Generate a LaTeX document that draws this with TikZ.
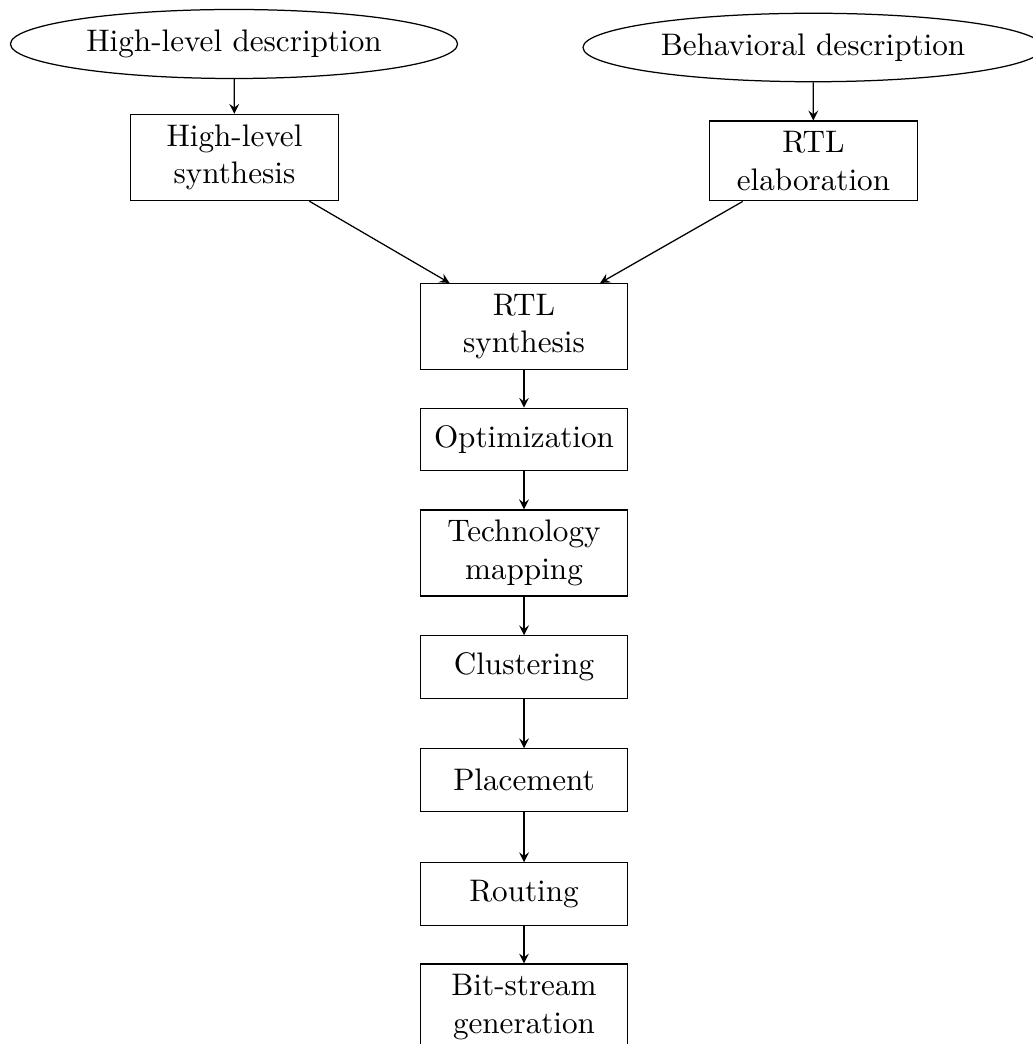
\documentclass[tikz,border=0pt]{standalone}
\usetikzlibrary{shapes.geometric}
\begin{document}
\begin{tikzpicture}[x={(0.32103pt,0)}, y={(0,-0.32103pt)},
  stepbox/.style={draw, text width=6em, align=center, minimum height=2em, inner sep=0.3333em},
  srcell/.style={draw, ellipse, inner sep=0.3333em},
  flow/.style={-stealth}]
\useasboundingbox (0,0) rectangle (1033,1044);
\clip (0,0) rectangle (1033,1044);
\node[srcell] (hld) at (234,44) {High-level description};
\node[srcell] (bd) at (813,47.5) {Behavioral description};
\node[stepbox] (hls) at (234.5,157.5) {High-level\\synthesis};
\node[stepbox] (rtle) at (813.5,161) {RTL\\elaboration};
\node[stepbox] (rtls) at (524,326.5) {RTL\\synthesis};
\node[stepbox] (opt) at (524,439.5) {Optimization};
\node[stepbox] (tech) at (524,553) {Technology\\mapping};
\node[stepbox] (clu) at (524,667) {Clustering};
\node[stepbox] (pla) at (524,780) {Placement};
\node[stepbox] (rou) at (524,894) {Routing};
\node[stepbox] (bit) at (524,1007) {Bit-stream\\generation};
\draw[flow] (hld) -- (hls);
\draw[flow] (bd) -- (rtle);
\draw[flow] (hls) -- (rtls);
\draw[flow] (rtle) -- (rtls);
\draw[flow] (rtls) -- (opt);
\draw[flow] (opt) -- (tech);
\draw[flow] (tech) -- (clu);
\draw[flow] (clu) -- (pla);
\draw[flow] (pla) -- (rou);
\draw[flow] (rou) -- (bit);
\end{tikzpicture}
\end{document}
